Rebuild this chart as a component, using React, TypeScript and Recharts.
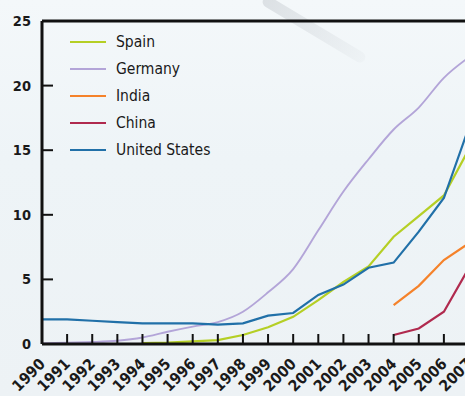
import { LineChart, Line, XAxis, YAxis, ReferenceLine } from 'recharts';

const years = [1990, 1991, 1992, 1993, 1994, 1995, 1996, 1997, 1998, 1999, 2000, 2001, 2002, 2003, 2004, 2005, 2006, 2007];
const spain = [null, null, null, null, 0.07, 0.1, 0.2, 0.3, 0.7, 1.3, 2.1, 3.4, 4.8, 6.0, 8.3, 9.9, 11.5, 15.1];
const germany = [0.05, 0.1, 0.15, 0.25, 0.5, 0.95, 1.35, 1.7, 2.5, 4.0, 5.8, 8.8, 11.8, 14.3, 16.6, 18.3, 20.6, 22.2];
const india = [null, null, null, null, null, null, null, null, null, null, null, null, null, null, 3.0, 4.5, 6.5, 7.8];
const china = [null, null, null, null, null, null, null, null, null, null, null, null, null, null, 0.7, 1.2, 2.5, 5.9];
const usa = [1.9, 1.9, 1.8, 1.7, 1.6, 1.6, 1.6, 1.5, 1.6, 2.2, 2.4, 3.8, 4.6, 5.9, 6.3, 8.7, 11.3, 16.8];
const yTicks = [0, 5, 10, 15, 20, 25];

const series = [
  { key: 'spain', name: 'Spain', color: '#b5cf25', width: 2.2 },
  { key: 'germany', name: 'Germany', color: '#b3a5d8', width: 1.9 },
  { key: 'india', name: 'India', color: '#f5822a', width: 2.2 },
  { key: 'china', name: 'China', color: '#b02a4e', width: 2.2 },
  { key: 'usa', name: 'United States', color: '#2170a8', width: 2.2 },
];

const data = years.map((year, i) => ({
  year,
  spain: spain[i],
  germany: germany[i],
  india: india[i],
  china: china[i],
  usa: usa[i],
}));

const FONT = '"DejaVu Sans Condensed", "DejaVu Sans", sans-serif';

function YearTick({ x, y, payload }: any) {
  const v = payload.value;
  const tx = x + 4;
  const ty = y + 21;
  return (
    <g>
      {v > 1990 && <line x1={x} x2={x} y1={y} y2={y - 10} stroke="#111" strokeWidth={2} />}
      <text
        x={tx}
        y={ty}
        textAnchor="end"
        transform={`rotate(-45 ${tx} ${ty})`}
        fontFamily={FONT}
        fontWeight="bold"
        fontSize={15.5}
        fill="#1a1a1a"
      >
        {v}
      </text>
    </g>
  );
}

function ValueTick({ x, y, payload }: any) {
  const v = payload.value;
  return (
    <g>
      {v > 0 && v < 25 && <line x1={x} x2={x + 11} y1={y} y2={y} stroke="#111" strokeWidth={2} />}
      <text x={x - 11} y={y + 5} textAnchor="end" fontFamily={FONT} fontWeight="bold" fontSize={14.5} fill="#1a1a1a">
        {v}
      </text>
    </g>
  );
}

export default function App() {
  return (
    <div
      style={{
        position: 'absolute', left: 0, top: 0, width: 465, height: 396, overflow: 'hidden',
        background: 'linear-gradient(180deg, #f4f8fa 0%, #eef4f7 40%, #edf2f5 100%)',
      }}
    >
      <div
        style={{
          position: 'absolute', left: 255, top: 24, width: 118, height: 11,
          transform: 'rotate(31deg)', borderRadius: 6,
          background: 'linear-gradient(90deg, rgba(200,205,210,0.55), rgba(215,220,224,0.15))',
        }}
      />
      <div style={{ position: 'absolute', left: 0, top: 0 }}>
        <LineChart width={480} height={396} data={data} margin={{ top: 21, right: 11, left: 0, bottom: 0 }}>
          <XAxis
            dataKey="year"
            type="number"
            domain={[1990, 2007]}
            ticks={years}
            interval={0}
            height={52}
            tickSize={0}
            tickMargin={0}
            tickLine={false}
            axisLine={{ stroke: '#111', strokeWidth: 3 }}
            tick={<YearTick />}
          />
          <YAxis
            type="number"
            domain={[0, 25]}
            ticks={yTicks}
            width={42}
            tickSize={0}
            tickMargin={0}
            tickLine={false}
            axisLine={{ stroke: '#111', strokeWidth: 3 }}
            tick={<ValueTick />}
          />
          <ReferenceLine y={25} stroke="#111" strokeWidth={3} />
          {series.map((s) => (
            <Line
              key={s.key}
              dataKey={s.key}
              name={s.name}
              type={s.key === 'germany' ? 'monotone' : 'linear'}
              stroke={s.color}
              strokeWidth={s.width}
              dot={false}
              activeDot={false}
              isAnimationActive={false}
            />
          ))}
        </LineChart>
      </div>
      <div style={{ position: 'absolute', left: 70, top: 28, fontFamily: FONT, fontSize: 15.5, color: '#1a1a1a' }}>
        {series.map((s) => (
          <div key={s.key} style={{ display: 'flex', alignItems: 'center', height: 27 }}>
            <span style={{ display: 'inline-block', width: 36, height: 2, background: s.color, marginRight: 10 }} />
            <span>{s.name}</span>
          </div>
        ))}
      </div>
    </div>
  );
}
